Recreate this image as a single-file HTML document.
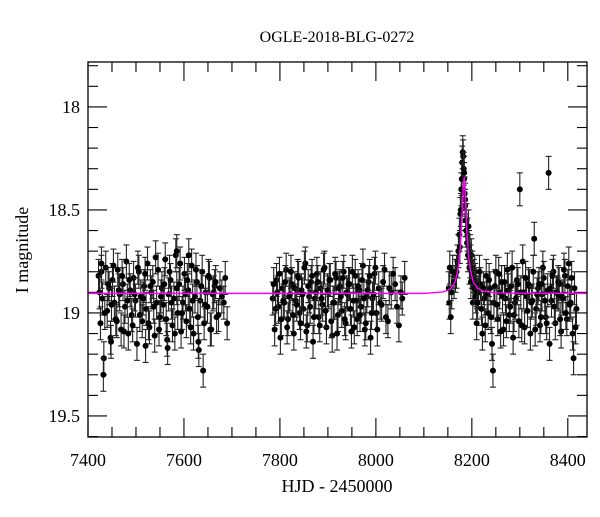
<!DOCTYPE html>
<html><head><meta charset="utf-8"><style>
body{margin:0;background:#fff}
svg text{font-family:"Liberation Serif",serif;fill:#000}
</style></head><body>
<svg id="chart" width="600" height="512" viewBox="0 0 600 512" xmlns="http://www.w3.org/2000/svg">
<text x="337" y="42" font-size="16" text-anchor="middle">OGLE-2018-BLG-0272</text>
<text x="337" y="492" font-size="18" text-anchor="middle">HJD - 2450000</text>
<text transform="translate(28,250) rotate(-90)" font-size="18" text-anchor="middle">I magnitude</text>
<g id="ticks"></g>
<g id="data"></g>
<g id="model"></g>
<rect x="88" y="62" width="499" height="375" fill="none" stroke="#000" stroke-width="1.3"/>
</svg>
<script>
const xTickLabels=[7400,7600,7800,8000,8200,8400];
const yTickLabels=[18,18.5,19,19.5];
const obsT=[7422,7426,7430,7433,7437,7440,7444,7447,7451,7455,7458,7462,7466,7469,7473,7477,7480,7484,7488,7491,7495,7499,7502,7506,7510,7513,7517,7521,7524,7528,7532,7535,7539,7543,7546,7550,7554,7557,7561,7565,7568,7572,7576,7579,7583,7587,7590,7594,7598,7601,7605,7609,7612,7616,7620,7623,7627,7631,7634,7638,7642,7645,7649,7653,7657,7660,7664,7668,7675,7683,7690,7432,7640,
7785,7789,7793,7797,7801,7805,7809,7813,7817,7821,7825,7829,7833,7837,7841,7845,7849,7853,7857,7861,7865,7869,7873,7877,7881,7885,7889,7893,7897,7901,7905,7909,7913,7917,7921,7925,7929,7933,7937,7941,7945,7949,7953,7957,7961,7965,7969,7973,7977,7981,7985,7989,7993,7997,8001,8006,8012,8018,8025,8032,8040,8048,8055,8060,
8152,8153,8154,8156,8160,8166,8170,8172,8174,8176,8178,8180,8181,8182,8183,8184,8185,8186,8187,8188,8190,8192,8195,
8198,8202,8206,8210,8214,8218,8222,8226,8230,8234,8238,8242,8246,8250,8254,8258,8262,8266,8270,8274,8278,8282,8286,8290,8294,8298,8302,8306,8310,8314,8318,8322,8326,8330,8334,8338,8342,8346,8350,8354,8358,8362,8366,8370,8374,8378,8382,8386,8390,8394,8398,8402,8406,8410,8414,8418,8300,8360,8244,8412];
const obsMag=[18.82,19.05,18.93,19.22,18.78,18.99,18.88,19.12,18.84,18.95,19.03,18.79,18.91,19.08,18.86,18.97,18.75,19.10,18.89,19.01,18.83,18.94,19.15,18.80,18.92,19.04,18.87,18.98,18.76,19.07,18.90,18.85,19.11,18.95,18.79,19.02,18.88,18.96,18.74,19.13,18.91,18.84,19.06,18.93,18.72,19.00,18.86,19.09,18.95,18.81,19.04,18.89,18.98,18.77,19.10,18.92,18.85,19.18,18.94,18.80,19.05,18.90,18.97,18.83,19.08,18.91,18.87,19.02,18.88,18.95,19.05,19.30,19.28,
18.93,19.08,18.84,18.97,19.12,18.88,18.95,18.79,19.03,18.91,18.86,19.10,18.94,18.82,19.00,18.89,18.98,18.76,19.06,18.92,18.85,19.14,18.93,18.81,19.02,18.88,18.96,18.78,19.07,18.90,18.84,19.11,18.95,18.83,19.01,18.87,18.99,18.80,19.05,18.91,18.86,19.09,18.94,18.82,19.03,18.89,18.97,18.77,19.08,18.92,18.85,19.12,18.93,18.81,19.00,18.88,18.96,18.79,19.04,18.90,18.86,19.06,18.93,18.83,
18.88,18.95,18.78,19.02,18.80,18.82,18.75,18.70,18.62,18.52,18.40,18.27,18.22,18.24,18.30,18.35,18.42,18.48,18.55,18.60,18.66,18.72,18.78,
18.85,18.95,18.80,19.05,18.90,18.86,19.10,18.93,18.82,19.00,18.88,19.15,18.95,18.80,19.03,18.90,18.85,19.08,18.93,18.79,19.01,18.87,19.12,18.95,18.84,19.04,18.90,18.75,19.07,18.92,18.86,19.10,18.94,18.64,18.98,18.88,19.06,18.91,18.83,19.02,18.89,19.15,18.94,18.80,19.05,18.90,18.86,19.09,18.93,18.82,19.03,18.76,18.95,19.10,18.88,18.98,18.40,18.32,19.28,19.22];
const obsT2=[7424,7428,7435,7442,7449,7453,7460,7464,7471,7475,7482,7486,7493,7497,7504,7508,7515,7519,7526,7530,7537,7541,7548,7552,7559,7563,7570,7574,7581,7585,7592,7596,7603,7607,7614,7618,7625,7629,7636,7644,7651,7655,7662,7666,7672,7679,7686,7428,7585,7610,7448,7520,7566,7630,
7787,7791,7795,7799,7803,7807,7811,7815,7819,7823,7827,7831,7835,7839,7843,7847,7851,7855,7859,7863,7867,7871,7875,7879,7883,7887,7891,7895,7899,7903,7907,7911,7915,7919,7923,7927,7931,7935,7939,7943,7947,7951,7955,7959,7963,7967,7971,7975,7979,7983,7987,7991,7995,7999,8003,8009,8015,8021,8028,8036,8044,8052,
8158,8163,8168,8175,8177,8179,8184,8186,8189,8191,8193,8194,8196,8197,8199,8200,8201,8203,8204,8205,8207,8208,8209,8211,8212,
8216,8220,8224,8228,8232,8236,8240,8248,8252,8256,8260,8264,8268,8272,8276,8280,8284,8288,8292,8296,8304,8308,8312,8316,8320,8324,8328,8332,8336,8340,8344,8348,8352,8356,8364,8368,8372,8376,8380,8384,8388,8392,8396,8400,8404,8408,8416,8380,8345];
const obsMag2=[18.90,18.80,19.00,18.86,18.96,18.77,19.04,18.89,18.82,19.09,18.94,18.84,19.06,18.91,18.78,19.01,18.93,18.81,19.05,18.87,18.97,18.73,19.08,18.92,18.86,19.03,18.80,18.95,19.10,18.88,18.76,19.00,18.91,18.84,19.07,18.94,18.79,19.02,18.87,18.96,18.82,19.08,18.90,18.85,19.01,18.92,18.83,18.76,18.70,18.72,19.14,19.16,19.17,19.14,
18.86,18.98,18.90,18.81,19.03,18.94,18.85,19.07,18.92,18.80,19.01,18.88,18.96,18.83,19.05,18.91,18.78,19.09,18.87,18.97,18.82,19.02,18.90,18.85,19.06,18.93,18.79,18.99,18.89,18.84,19.04,18.95,18.81,19.10,18.88,18.92,18.83,19.03,18.90,18.86,18.98,18.80,19.07,18.94,18.87,19.01,18.84,18.93,19.05,18.89,18.82,19.00,18.91,18.78,19.08,18.95,18.85,19.02,18.88,18.81,18.97,18.90,
18.90,18.85,18.80,18.68,18.50,18.35,18.32,18.45,18.55,18.62,18.58,18.68,18.70,18.75,18.72,18.80,18.78,18.85,18.82,18.88,18.84,18.92,18.86,18.90,18.95,
18.80,18.98,18.88,19.06,18.91,18.84,19.02,18.87,18.96,18.81,19.09,18.92,18.85,19.04,18.89,18.97,18.78,19.01,18.93,18.86,19.06,18.90,18.83,18.99,18.87,18.95,18.80,19.08,18.91,18.86,19.02,18.78,18.94,19.05,18.88,18.82,18.97,18.90,18.85,19.03,18.92,18.79,19.00,18.87,18.96,18.83,19.07,18.91,18.86,18.99,18.80,19.04,18.93,18.72,18.70];
const modelT=[7400,8100,8140,8155,8165,8172,8176,8179,8182,8184,8186,8188,8190,8193,8197,8203,8212,8225,8250,8440];
const modelMag=[18.905,18.905,18.898,18.885,18.85,18.78,18.68,18.55,18.40,18.34,18.40,18.52,18.62,18.72,18.79,18.85,18.88,18.895,18.903,18.905];
const errBar=0.08;

const X0=88,X1=587,Y0=62,Y1=437;
const tMin=7400,tMax=8440,mMin=17.782,mMax=19.602;
const xs=t=>X0+(t-tMin)/(tMax-tMin)*(X1-X0);
const ys=m=>Y0+(m-mMin)/(mMax-mMin)*(Y1-Y0);
const NS='http://www.w3.org/2000/svg';
function mk(tag,parent){const e=document.createElementNS(NS,tag);parent.appendChild(e);return e;}
const tg=document.getElementById('ticks');
function line(p,x1,y1,x2,y2,c,w){const l=mk('line',p);l.setAttribute('x1',x1);l.setAttribute('y1',y1);l.setAttribute('x2',x2);l.setAttribute('y2',y2);l.setAttribute('stroke',c);l.setAttribute('stroke-width',w);return l;}
for(let t=tMin;t<=tMax;t+=50){
  const major=(t%200===0);const L=major?19:10;const x=xs(t);
  const a=line(tg,x,Y1,x,Y1-L,'#000',1.1);
  
  
  const b=line(tg,x,Y0,x,Y0+L,'#000',1.1);
  
  
}
xTickLabels.forEach(v=>{const s=mk('text',tg);s.setAttribute('x',xs(v));s.setAttribute('y',466);s.setAttribute('font-size','18');s.setAttribute('text-anchor','middle');s.textContent=v;
  
  });
for(let i=178;i<=196;i++){
  const m=i/10;if(m<mMin||m>mMax)continue;const major=(i%5===0);const L=major?19:10;const y=ys(m);
  const a=line(tg,X0,y,X0+L,y,'#000',1.1);
  
  
  const b=line(tg,X1,y,X1-L,y,'#000',1.1);
  
  
}
yTickLabels.forEach(v=>{const s=mk('text',tg);s.setAttribute('x',80);s.setAttribute('y',ys(v)+6);s.setAttribute('font-size','18');s.setAttribute('text-anchor','end');s.textContent=v;
  
  });
const dg=document.getElementById('data');
const allT=obsT.concat(obsT2), allM=obsMag.concat(obsMag2);
allT.forEach((t,i)=>{
  const x=xs(t),y=ys(allM[i]),y1=ys(allM[i]-errBar),y2=ys(allM[i]+errBar);
  const g=mk('g',dg);
  
  
  line(g,x,y1,x,y2,'#222',1.1);line(g,x-3,y1,x+3,y1,'#222',1.1);line(g,x-3,y2,x+3,y2,'#222',1.1);
  const c=mk('circle',g);c.setAttribute('cx',x);c.setAttribute('cy',y);c.setAttribute('r',3);c.setAttribute('fill','#000');
});
const mg=document.getElementById('model');
const p=mk('polyline',mg);


p.setAttribute('points',modelT.map((t,i)=>xs(t)+','+ys(modelMag[i])).join(' '));
p.setAttribute('fill','none');p.setAttribute('stroke','#ff00ff');p.setAttribute('stroke-width','1.4');
</script>
</body></html>
